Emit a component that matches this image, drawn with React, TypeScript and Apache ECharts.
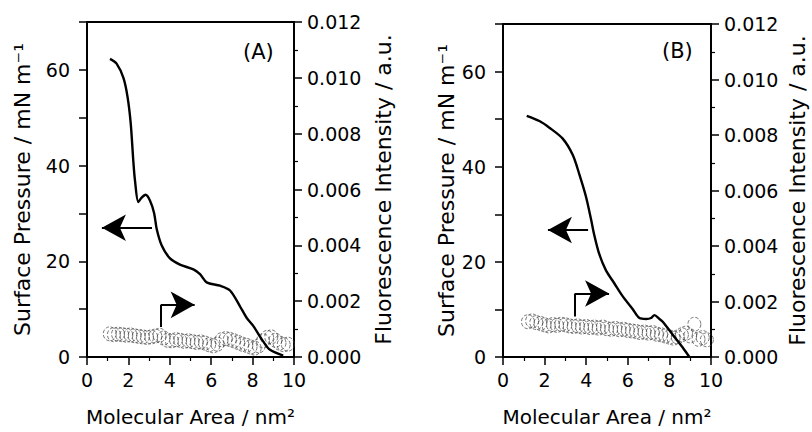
import React, { useEffect, useRef } from "react";
import * as echarts from "echarts";

// Panel A: surface pressure isotherm (mN/m) vs molecular area (nm^2)
const areaA = [1.11, 1.43, 1.76, 1.96, 2.11, 2.24, 2.32, 2.48, 2.64, 2.83, 3.04, 3.24, 3.37, 3.61, 4.01, 4.49, 5.14, 5.46, 5.78, 6.43, 6.91, 7.39, 7.71, 8.03, 8.52, 8.84, 9.48];
const pressureA = [62.3, 61.3, 58.3, 54.3, 48.9, 40.8, 36.8, 32.4, 33.3, 33.9, 32.7, 30.1, 26.7, 23.3, 20.6, 19.3, 18.3, 17.3, 15.6, 14.9, 13.9, 10.6, 8.2, 6.5, 3.2, 1.5, 0.3];
// Panel A: fluorescence intensity (a.u.)
const fluoAreaA = [1.1, 1.3, 1.5, 1.7, 1.9, 2.1, 2.3, 2.5, 2.7, 2.9, 3.1, 3.3, 3.5, 3.7, 3.9, 4.1, 4.3, 4.5, 4.7, 4.9, 5.1, 5.3, 5.5, 5.7, 5.9, 6.1, 6.3, 6.5, 6.7, 6.9, 7.1, 7.3, 7.5, 7.7, 7.9, 8.1, 8.3, 8.5, 8.7, 8.9, 9.1, 9.3, 9.5, 9.7];
const fluoA = [0.00083, 0.0008, 0.00082, 0.0008, 0.00078, 0.00079, 0.00076, 0.00074, 0.00072, 0.0007, 0.00072, 0.00075, 0.00078, 0.00068, 0.0006, 0.00058, 0.00062, 0.0006, 0.00056, 0.00058, 0.00055, 0.00052, 0.00054, 0.0005, 0.00044, 0.0004, 0.00046, 0.00062, 0.00066, 0.00063, 0.00058, 0.00052, 0.00046, 0.00042, 0.00036, 0.00032, 0.0004, 0.00058, 0.0007, 0.00072, 0.0006, 0.0005, 0.00044, 0.00046];

// Panel B
const areaB = [1.14, 1.75, 2.23, 2.87, 3.35, 3.67, 3.99, 4.23, 4.39, 4.63, 4.95, 5.35, 5.75, 6.23, 6.56, 6.88, 7.12, 7.28, 7.52, 7.68, 8.16, 8.64, 8.96];
const pressureB = [50.7, 49.6, 48.2, 45.9, 42.5, 38.4, 33.7, 29.0, 25.6, 21.6, 18.2, 15.5, 12.8, 10.1, 8.2, 8.0, 8.2, 8.8, 8.0, 7.4, 4.7, 2.0, 0.0];
const fluoAreaB = [1.2, 1.4, 1.6, 1.8, 2.0, 2.2, 2.4, 2.6, 2.8, 3.0, 3.2, 3.4, 3.6, 3.8, 4.0, 4.2, 4.4, 4.6, 4.8, 5.0, 5.2, 5.4, 5.6, 5.8, 6.0, 6.2, 6.4, 6.6, 6.8, 7.0, 7.2, 7.4, 7.6, 7.8, 8.0, 8.2, 8.4, 8.6, 8.8, 9.0, 9.2, 9.4, 9.6, 9.8];
const fluoB = [0.00127, 0.0013, 0.00124, 0.00121, 0.00116, 0.00112, 0.00117, 0.00114, 0.00118, 0.00116, 0.00112, 0.0011, 0.00112, 0.00108, 0.0011, 0.00106, 0.00108, 0.00104, 0.00108, 0.00102, 0.001, 0.00103, 0.00098, 0.001, 0.00096, 0.00094, 0.00092, 0.00088, 0.0009, 0.00086, 0.00088, 0.00082, 0.0008, 0.00076, 0.00072, 0.00068, 0.00072, 0.0008, 0.00086, 0.00076, 0.00118, 0.00064, 0.0007, 0.00062];

// Annotation arrows (data coordinates on pressure axis)
const arrowsA = { left: { y: 27.0, from: 3.14, to: 0.72 }, right: { x: 3.57, y0: 6.25, y1: 10.9, to: 5.2 } };
const arrowsB = { left: { y: 26.7, from: 4.09, to: 2.16 }, right: { x: 3.46, y0: 8.5, y1: 13.35, to: 5.1 } };

const panelLabels = ["(A)", "(B)"];
const FONT = "DejaVu Sans";

function zip(xs: number[], ys: number[]) {
  return xs.map((x, i) => [x, ys[i]]);
}

export default function App() {
  const ref = useRef<HTMLDivElement>(null);
  useEffect(() => {
    if (!ref.current) return;
    const chart = echarts.init(ref.current, undefined, { renderer: "svg" });
    const grids = [
      { left: 87, top: 22, width: 207, height: 347 },
      { left: 503, top: 24, width: 208, height: 346 },
    ];
    const leftGap = [54, 46];
    const rightGap = [78, 75];
    const xAxes: any[] = [];
    const yAxes: any[] = [];
    grids.forEach((g, i) => {
      xAxes.push({
        type: "value",
        gridIndex: i,
        min: 0,
        max: 10,
        interval: 2,
        name: "Molecular Area / nm²",
        nameLocation: "middle",
        nameGap: 50,
        nameTextStyle: { fontFamily: FONT, fontSize: 20, color: "#000" },
        axisLine: { show: true, onZero: false, lineStyle: { color: "#000", width: 2 } },
        axisTick: { show: true, length: 8, lineStyle: { color: "#000", width: 1.5 } },
        minorTick: { show: true, splitNumber: 2, length: 4, lineStyle: { color: "#000", width: 1.2 } },
        axisLabel: { fontFamily: FONT, fontSize: 19, color: "#000", margin: 13 },
        splitLine: { show: false },
      });
      yAxes.push({
        type: "value",
        gridIndex: i,
        position: "left",
        min: 0,
        max: 70,
        interval: 10,
        name: "Surface Pressure / mN m⁻¹",
        nameLocation: "middle",
        nameGap: leftGap[i],
        nameTextStyle: { fontFamily: FONT, fontSize: 22, color: "#000" },
        axisLine: { show: true, onZero: false, lineStyle: { color: "#000", width: 2 } },
        axisTick: { show: true, length: 8, lineStyle: { color: "#000", width: 1.5 } },
        axisLabel: {
          fontFamily: FONT,
          fontSize: 19,
          color: "#000",
          margin: 17,
          formatter: (v: number) => (v % 20 === 0 ? String(v) : ""),
        },
        splitLine: { show: false },
      });
      yAxes.push({
        type: "value",
        gridIndex: i,
        position: "right",
        min: 0,
        max: 0.012,
        interval: 0.002,
        name: "Fluorescence Intensity / a.u.",
        nameLocation: "middle",
        nameGap: rightGap[i],
        nameTextStyle: { fontFamily: FONT, fontSize: 22, color: "#000" },
        axisLine: { show: true, onZero: false, lineStyle: { color: "#000", width: 2 } },
        axisTick: { show: true, length: 8, lineStyle: { color: "#000", width: 1.5 } },
        minorTick: { show: true, splitNumber: 2, length: 4, lineStyle: { color: "#000", width: 1.2 } },
        axisLabel: {
          fontFamily: FONT,
          fontSize: 19,
          color: "#000",
          margin: 13,
          formatter: (v: number) => v.toFixed(3),
        },
        splitLine: { show: false },
      });
    });

    const arrowLine = (a: any) => ({
      silent: true,
      symbol: ["none", "arrow"],
      symbolSize: [20, 24],
      lineStyle: { color: "#000", width: 2, type: "solid" },
      label: { show: false },
      emphasis: { disabled: true },
      data: [
        [{ coord: [a.left.from, a.left.y] }, { coord: [a.left.to, a.left.y] }],
        [
          { coord: [a.right.x, a.right.y0], symbol: "none" },
          { coord: [a.right.x, a.right.y1], symbol: "none" },
        ],
        [{ coord: [a.right.x, a.right.y1] }, { coord: [a.right.to, a.right.y1] }],
      ],
    });

    const circleStyle = {
      color: "rgba(0,0,0,0)",
      borderColor: "#444",
      borderWidth: 0.9,
      borderType: "dashed",
    };

    const series: any[] = [
      {
        type: "scatter",
        xAxisIndex: 0,
        yAxisIndex: 1,
        data: zip(fluoAreaA, fluoA),
        symbol: "circle",
        symbolSize: [13, 14],
        itemStyle: circleStyle,
      },
      {
        type: "line",
        xAxisIndex: 0,
        yAxisIndex: 0,
        data: zip(areaA, pressureA),
        showSymbol: false,
        smooth: 0.3,
        lineStyle: { color: "#000", width: 2.4 },
        markLine: arrowLine(arrowsA),
      },
      {
        type: "scatter",
        xAxisIndex: 1,
        yAxisIndex: 3,
        data: zip(fluoAreaB, fluoB),
        symbol: "circle",
        symbolSize: [13, 14],
        itemStyle: circleStyle,
      },
      {
        type: "line",
        xAxisIndex: 1,
        yAxisIndex: 2,
        data: zip(areaB, pressureB),
        showSymbol: false,
        smooth: 0.3,
        lineStyle: { color: "#000", width: 2.4 },
        markLine: arrowLine(arrowsB),
      },
    ];

    chart.setOption({
      animation: false,
      backgroundColor: "#fff",
      grid: grids.map((g) => ({ ...g, show: true, borderColor: "#000", borderWidth: 2, backgroundColor: "transparent" })),
      xAxis: xAxes,
      yAxis: yAxes,
      series,
      graphic: [
        { type: "text", left: 243, top: 41, style: { text: panelLabels[0], font: `21px "${FONT}"`, fill: "#000" } },
        { type: "text", left: 662, top: 40, style: { text: panelLabels[1], font: `21px "${FONT}"`, fill: "#000" } },
      ],
    });
    return () => chart.dispose();
  }, []);
  return <div ref={ref} style={{ position: "fixed", left: 0, top: 0, width: 812, height: 432 }} />;
}
